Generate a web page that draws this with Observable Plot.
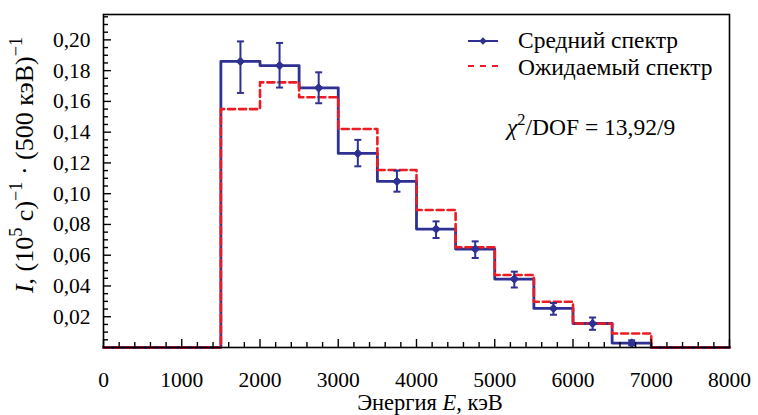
<!DOCTYPE html>
<html><head><meta charset="utf-8">
<script src="https://cdn.jsdelivr.net/npm/d3@7"></script>
<script src="https://cdn.jsdelivr.net/npm/@observablehq/plot@0.6"></script>
<style>
html,body{margin:0;padding:0;background:#fff;}
svg{display:block;}
svg, svg text, svg tspan {font-family:"Liberation Serif","Times New Roman",Times,serif !important;}
</style>
</head><body><div id="chart"></div>
<script>
// ---- data ----
const binEdges = [0, 1500, 2000, 2500, 3000, 3500, 4000, 4500, 5000, 5500, 6000, 6500, 7000, 8000];
const measured = [0, 0.186, 0.1833, 0.1688, 0.1262, 0.108, 0.077, 0.064, 0.0445, 0.0254, 0.0156, 0.0029, 0];
const expected = [0, 0.155, 0.1724, 0.1627, 0.1421, 0.1154, 0.0894, 0.0652, 0.0471, 0.0297, 0.0156, 0.0091, 0];
const pointE = [1750, 2250, 2750, 3250, 3750, 4250, 4750, 5250, 5750, 6250, 6750];
const pointI = [0.186, 0.1833, 0.1688, 0.1262, 0.108, 0.077, 0.064, 0.0445, 0.0254, 0.0156, 0.0029];
const errHigh = [0.199, 0.198, 0.1789, 0.135, 0.115, 0.082, 0.069, 0.0493, 0.0289, 0.0195, 0.0047];
const errLow = [0.1655, 0.169, 0.1588, 0.1178, 0.1013, 0.0712, 0.0582, 0.039, 0.0213, 0.0115, 0.0014];
const xTickValues = [0, 1000, 2000, 3000, 4000, 5000, 6000, 7000, 8000];
const yTickValues = [0.02, 0.04, 0.06, 0.08, 0.10, 0.12, 0.14, 0.16, 0.18, 0.20];
const legendLabels = ["Средний спектр", "Ожидаемый спектр"];
const chiValue = "13,92/9";

const BLUE = "#2e3192";
const RED = "#ed1c24";

const stepMeasured = binEdges.map((e, i) => ({E: e, I: measured[Math.min(i, measured.length - 1)]}));
const stepExpected = binEdges.map((e, i) => ({E: e, I: expected[Math.min(i, expected.length - 1)]}));
const points = pointE.map((e, i) => ({E: e, I: pointI[i], hi: errHigh[i], lo: errLow[i]}));

const xMinor = d3.range(0, 8001, 200).filter(v => v % 1000 !== 0);
const yMinor = d3.range(0.005, 0.2151, 0.005).filter(v => Math.abs(v / 0.02 - Math.round(v / 0.02)) > 1e-6);

const capSymbol = {draw(ctx, size) { const w = Math.sqrt(size / Math.PI); ctx.moveTo(-w, 0); ctx.lineTo(w, 0); }};

const ff = "Liberation Serif, Times New Roman, Times, serif";

const plot = Plot.plot({
  width: 758,
  height: 415,
  marginLeft: 103,
  marginRight: 29,
  marginTop: 14,
  marginBottom: 68,
  style: {fontFamily: ff, fontSize: "21px", color: "black", background: "white"},
  x: {domain: [0, 8000], label: null},
  y: {domain: [0, 0.2165], label: null},
  marks: [
    Plot.line(stepMeasured, {x: "E", y: "I", curve: "step-after", stroke: BLUE, strokeWidth: 2.8}),
    Plot.line(stepExpected, {x: "E", y: "I", curve: "step-after", stroke: RED, strokeWidth: 2.6, strokeDasharray: "7,4"}),
    Plot.ruleX(points, {x: "E", y1: "lo", y2: "hi", stroke: BLUE, strokeWidth: 2}),
    Plot.dot(points, {x: "E", y: "hi", symbol: capSymbol, r: 3.5, stroke: BLUE, strokeWidth: 2, fill: "none"}),
    Plot.dot(points, {x: "E", y: "lo", symbol: capSymbol, r: 3.5, stroke: BLUE, strokeWidth: 2, fill: "none"}),
    Plot.dot(points, {x: "E", y: "I", symbol: "diamond2", r: 3.8, fill: BLUE, stroke: BLUE, strokeWidth: 1}),
    // ticks (inward)
    Plot.axisX({ticks: xMinor, tickSize: -5, fill: "none", strokeWidth: 1.4, label: null}),
    Plot.axisX({ticks: xTickValues, tickSize: -8, fill: "none", strokeWidth: 1.4, label: null}),
    Plot.axisY({ticks: yMinor, tickSize: -5, fill: "none", strokeWidth: 1.4, label: null}),
    Plot.axisY({ticks: yTickValues, tickSize: -8, fill: "none", strokeWidth: 1.4, label: null}),
    // tick labels
    Plot.axisX({ticks: xTickValues, tickSize: 0, tickPadding: 24, tickFormat: d => String(d), fontSize: 21.5, label: null}),
    Plot.axisY({ticks: yTickValues, tickSize: 0, tickPadding: 13, tickFormat: d => d.toFixed(2).replace(".", ","), fontSize: 21.5, label: null}),
    Plot.frame({stroke: "black", strokeWidth: 1.6})
  ]
});

const svg = d3.select(plot);

function richText(parent, parts, fs) {
  let shift = 0;
  parts.forEach(p => {
    const ts = parent.append("tspan").text(p.t);
    if (p.italic) ts.attr("font-style", "italic");
    if (p.sup) {
      ts.attr("font-size", fs * 0.7).attr("dy", -0.42 * fs - shift);
      shift = -0.42 * fs;
    } else {
      if (shift !== 0) ts.attr("dy", -shift);
      shift = 0;
    }
  });
}

// y label
const yl = svg.append("text")
  .attr("transform", "translate(33,165) rotate(-90)")
  .attr("text-anchor", "middle")
  .attr("font-family", ff).attr("font-size", 26).attr("font-weight", "normal").attr("fill", "black")
  .style("white-space", "pre");
richText(yl, [{t: "I", italic: true}, {t: ", (10"}, {t: "5", sup: true}, {t: " с)"}, {t: "−1", sup: true}, {t: " · (500 кэВ)"}, {t: "−1", sup: true}], 26);

// x label
const xl = svg.append("text")
  .attr("x", 430).attr("y", 410)
  .attr("text-anchor", "middle")
  .attr("font-family", ff).attr("font-size", 22.5).attr("fill", "black")
  .style("white-space", "pre");
richText(xl, [{t: "Энергия "}, {t: "E", italic: true}, {t: ", кэВ"}], 22.5);

// legend
const LFS = 23.5;
const lg = svg.append("g").attr("text-anchor", "start");
lg.append("line").attr("x1", 468).attr("x2", 498).attr("y1", 41).attr("y2", 41).attr("stroke", BLUE).attr("stroke-width", 2);
lg.append("path").attr("d", d3.symbol(d3.symbolDiamond2, 36)()).attr("transform", "translate(483,41)").attr("fill", BLUE);
lg.append("text").attr("x", 518).attr("y", 48).attr("text-anchor", "start").attr("font-family", ff).attr("font-size", LFS).attr("fill", "black").text(legendLabels[0]);
lg.append("line").attr("x1", 468).attr("x2", 498).attr("y1", 66).attr("y2", 66).attr("stroke", RED).attr("stroke-width", 2).attr("stroke-dasharray", "6,6");
lg.append("text").attr("x", 518).attr("y", 75).attr("text-anchor", "start").attr("font-family", ff).attr("font-size", LFS).attr("fill", "black").text(legendLabels[1]);

// chi2 annotation
const ct = svg.append("text").attr("x", 507).attr("y", 135).attr("text-anchor", "start")
  .attr("font-family", ff).attr("font-size", LFS).attr("fill", "black").style("white-space", "pre");
richText(ct, [{t: "χ", italic: true}, {t: "2", sup: true}, {t: "/DOF = " + chiValue}], LFS);

document.getElementById("chart").appendChild(plot);
</script>
</body></html>
